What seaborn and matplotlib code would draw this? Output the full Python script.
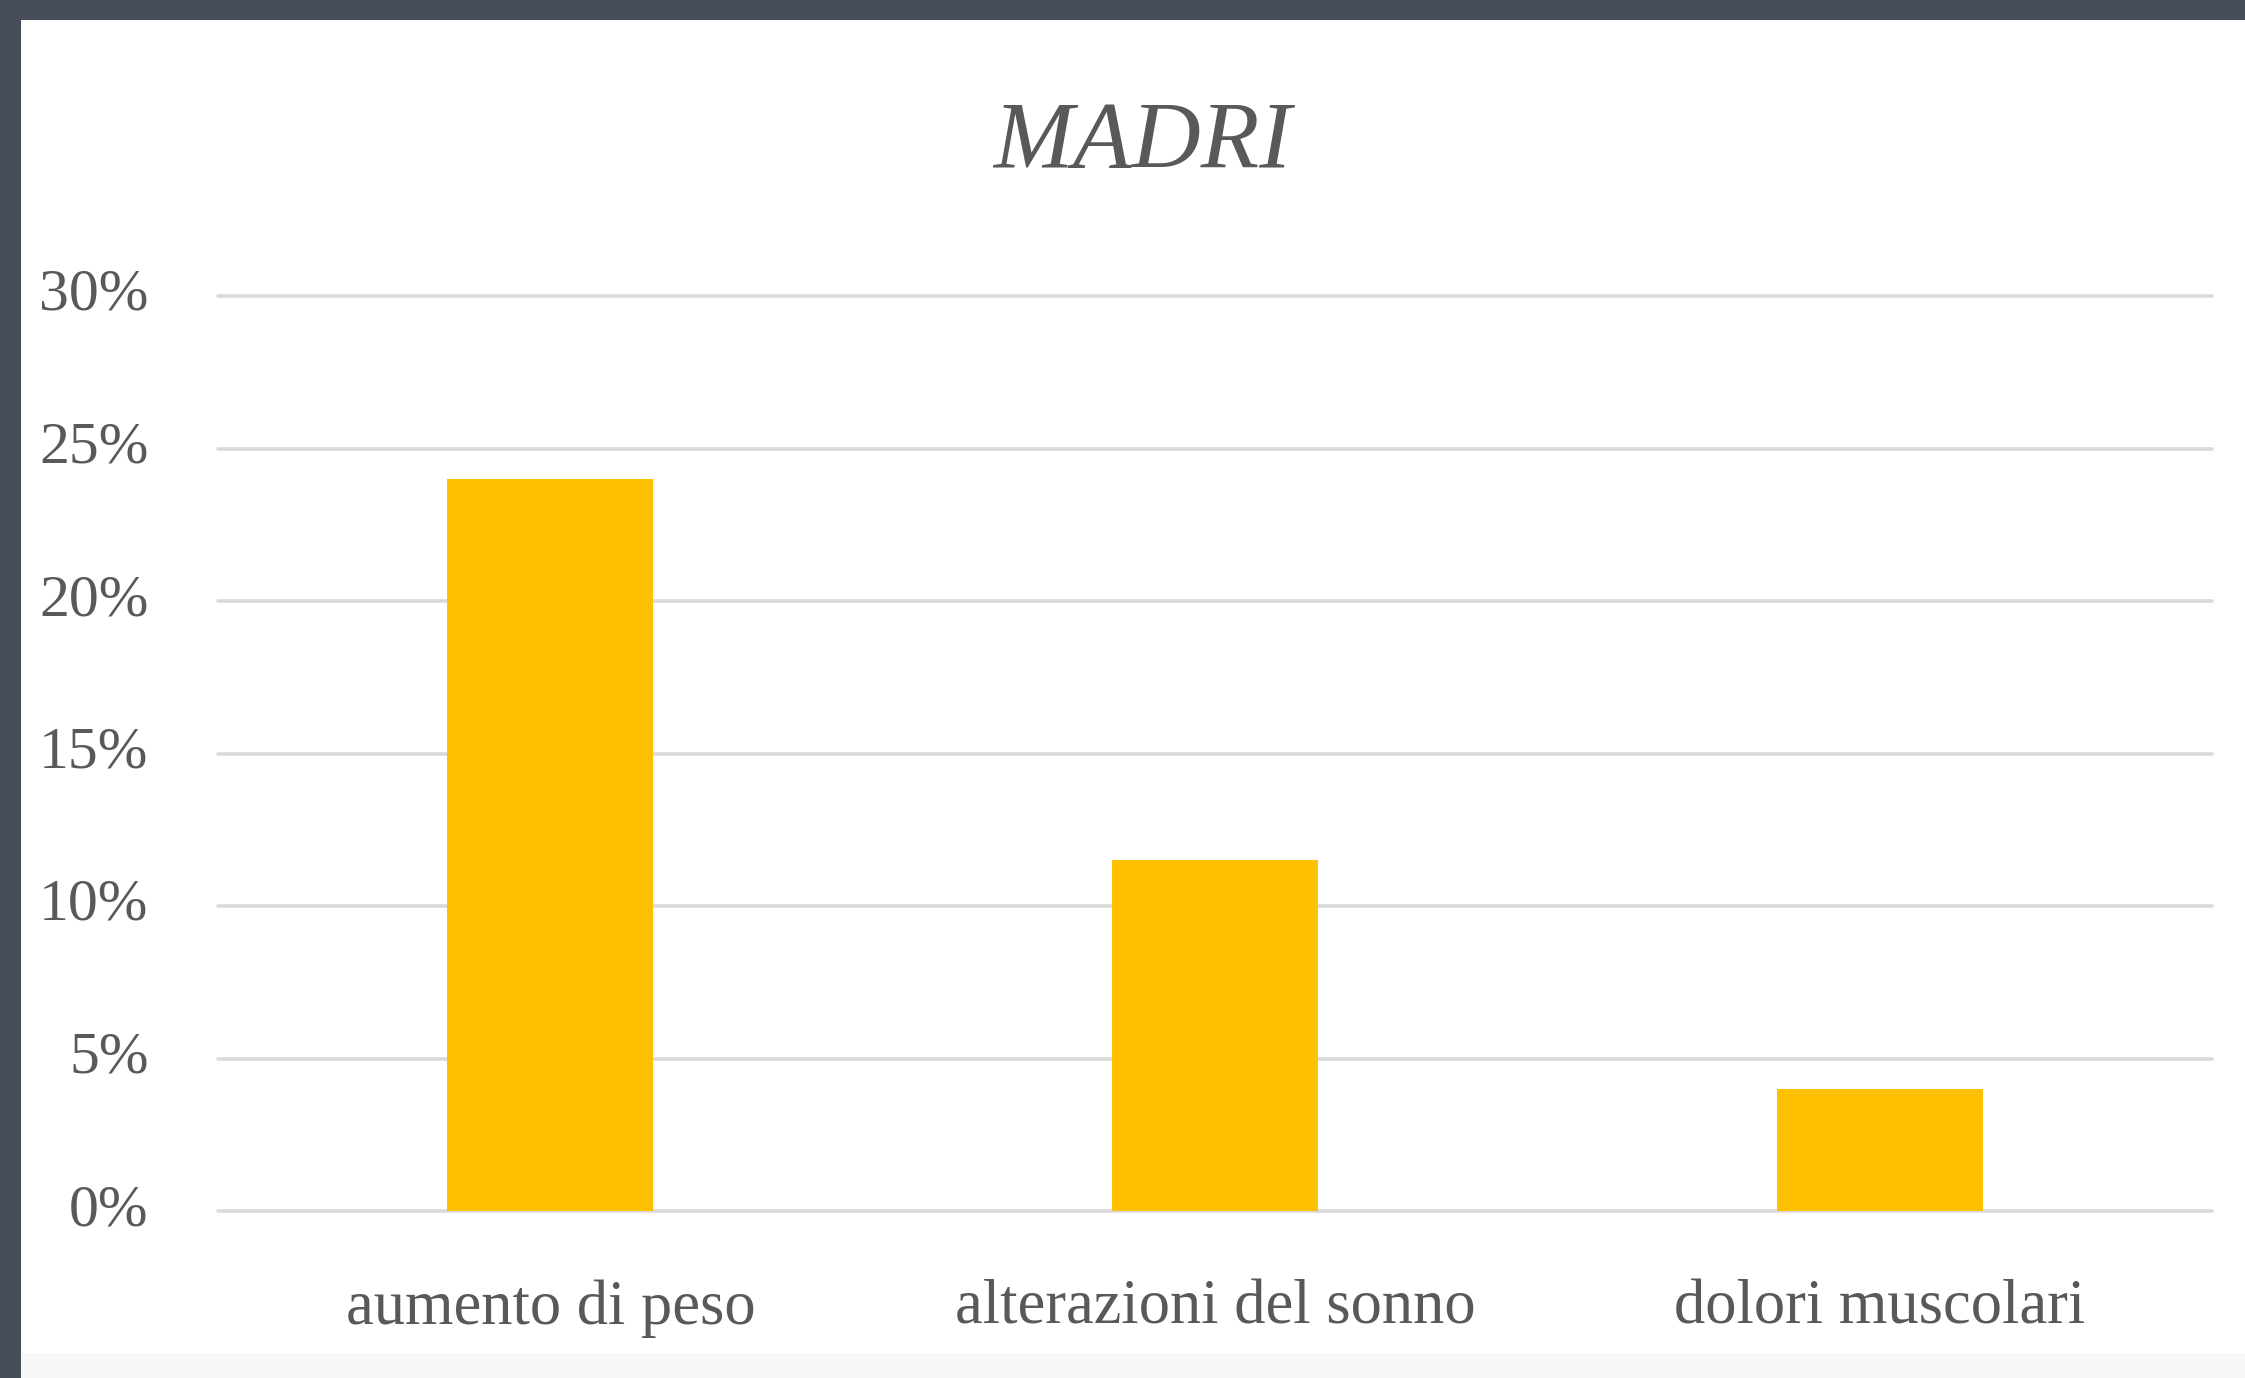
import matplotlib
matplotlib.use("Agg")
import matplotlib.pyplot as plt
import seaborn as sns
import pandas as pd
from matplotlib.patches import Rectangle
from matplotlib.ticker import FuncFormatter

categories = ["aumento di peso", "alterazioni del sonno", "dolori muscolari"]
values = [24.0, 11.5, 4.0]
yticks = [0, 5, 10, 15, 20, 25, 30]
title = "MADRI"

W, H = 2245, 1378
TEXT = "#595959"
BAR = "#FFC000"
GRID = "#D9D9D9"
FRAME = "#484d5c"

sns.set_theme(style="white")
plt.rcParams["font.family"] = ["Liberation Serif", "DejaVu Serif"]

fig = plt.figure(figsize=(W / 100, H / 100), dpi=100)
fig.patch.set_facecolor(FRAME)

# white slide panel and light strip at bottom
fig.patches.append(Rectangle((21 / W, 0), 1 - 21 / W, 1 - 20 / H,
                             transform=fig.transFigure, facecolor="white",
                             edgecolor="none", zorder=-2))
fig.patches.append(Rectangle((21 / W, 0), 1 - 21 / W, (H - 1353) / H,
                             transform=fig.transFigure, facecolor="#F8F8F8",
                             edgecolor="none", zorder=-1))

left, right = 218 / W, 2212 / W
bottom, top = 1 - 1211 / H, 1 - 296 / H
ax = fig.add_axes([left, bottom, right - left, top - bottom])
ax.set_facecolor("none")
ax.set_zorder(1)

df = pd.DataFrame({"cat": categories, "val": values})
sns.barplot(data=df, x="cat", y="val", color=BAR, saturation=1, width=0.31,
            ax=ax, zorder=3)
for p in ax.patches:
    p.set_edgecolor("none")

ax.set_xlim(-0.5, 2.5)
ax.set_ylim(0, 30)
ax.set_yticks(yticks)
ax.yaxis.set_major_formatter(FuncFormatter(lambda v, _: f"{int(v)}%"))
ax.grid(axis="y", color=GRID, linewidth=2.6)
ax.set_axisbelow(True)
for gl in ax.get_ygridlines():
    gl.set_clip_on(False)
for s in ax.spines.values():
    s.set_visible(False)
ax.set_xlabel("")
ax.set_ylabel("")
ax.tick_params(axis="y", length=0, pad=50, labelsize=43, labelcolor=TEXT)
ax.tick_params(axis="x", length=0, pad=49, labelsize=45, labelcolor=TEXT)
for lab in ax.get_yticklabels():
    lab.set_va("center")

fig.text(1142 / W, 1 - 168 / H, title, ha="center", va="baseline",
         style="italic", fontsize=69, color=TEXT, zorder=5)

fig.savefig("out.png", dpi=100, facecolor=fig.get_facecolor())
